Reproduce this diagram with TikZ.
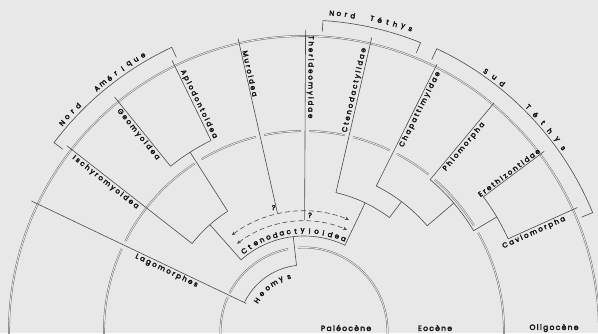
\documentclass[tikz,border=0pt]{standalone}
\usepackage{fontspec}
\setmainfont{Poppins}[AutoFakeBold=4]
\usetikzlibrary{arrows.meta}
\definecolor{bg}{HTML}{E8E8E8}
\definecolor{ink}{HTML}{4A4A4A}
\definecolor{tl}{HTML}{666666}
\definecolor{txt}{HTML}{1A1A1A}
\tikzset{
  clade/.style={draw=ink, line width=0.6pt},
  tline/.style={draw=tl, line width=0.45pt, double=bg, double distance=0.9pt},
  brk/.style={draw=ink, line width=0.6pt},
  lab/.style={text=txt, font=\bfseries\fontsize{7}{8}\selectfont\addfontfeature{LetterSpace=28}, inner sep=1.2pt},
  bot/.style={text=txt, font=\bfseries\fontsize{7.5}{9}\selectfont\addfontfeature{LetterSpace=18}, inner sep=0pt},
  letr/.style={text=txt, font=\bfseries\fontsize{7}{8}\selectfont, inner sep=0pt},
  dsh/.style={draw=ink, line width=0.6pt, dash pattern=on 5pt off 3pt, {Stealth[length=4pt,width=3.5pt]}-{Stealth[length=4pt,width=3.5pt]}},
}
\newcommand{\radl}[3]{\draw[clade] (#1:#2pt) -- (#1:#3pt);}
\newcommand{\carc}[3]{\draw[clade] (#1:#3pt) arc[start angle=#1, end angle=#2, radius=#3pt];}
\newcommand{\tarc}[3]{\draw[tline] (#1:#3pt) arc[start angle=#1, end angle=#2, radius=#3pt];}
\newcommand{\arctext}[4]{%
  \foreach \lt [count=\ii from 0] in {#1} {%
    \pgfmathsetmacro{\myang}{#2+\ii*(#3)}%
    \node[letr, rotate=\myang-90] at (\myang:#4pt) {\lt};%
  }}
\begin{document}
\begin{tikzpicture}[x=1pt,y=1pt]
\fill[bg] (0,0) rectangle (598,333);
\useasboundingbox (0,0) rectangle (598,333);
\begin{scope}
\clip (0,0) rectangle (598,333);
\begin{scope}[shift={(304,2)}]
% time arcs
\tarc{-3}{94}{83.5}
\tarc{101}{153}{83.5}
\tarc{156}{183}{83.5}
\tarc{-3}{29.4}{200}
\tarc{31.8}{49.1}{200}
\tarc{51.5}{62.3}{200}
\tarc{64.7}{75.8}{200}
\tarc{78.2}{88.5}{200}
\tarc{90.9}{101.5}{200}
\tarc{103.9}{120.8}{200}
\tarc{123.2}{153.3}{200}
\tarc{155.7}{183}{200}
\tarc{-3}{183}{295}
% cladogram
\radl{142}{142}{301}
\radl{129}{212}{301}
\radl{116}{212}{301}
\carc{129}{116}{212}
\radl{122.5}{142}{212}
\carc{142}{122.5}{142}
\radl{131.5}{95}{142}
\carc{131.5}{64.5}{95}
\radl{64.5}{95}{142}
\carc{77}{53}{142}
\radl{77}{142}{301}
\radl{53}{142}{162}
\carc{63.5}{40.5}{162}
\radl{63.5}{162}{298}
\radl{40.5}{162}{197}
\carc{50.2}{30.6}{197}
\radl{50.2}{197}{297}
\radl{30.6}{197}{224}
\carc{36.8}{24.3}{224}
\radl{36.8}{224}{300}
\radl{24.3}{224}{300}
\radl{102.7}{121}{300}
\radl{89.7}{111}{301}
\radl{96.5}{66}{95}
\carc{154.5}{96.5}{66}
\radl{154.5}{64}{302}
% dashed arcs
\draw[dsh] (127:120pt) arc[start angle=127, end angle=68, radius=120pt];
\draw[dsh] (127.5:110pt) arc[start angle=127.5, end angle=67, radius=110pt];
\node[letr] at (103.8:127pt) {?};
\node[letr] at (87:116pt) {?};
% brackets
\draw[brk] (143:302pt) -- (143:313pt) arc[start angle=143, end angle=115, radius=313pt] -- (115:302pt);
\draw[brk] (86.5:300pt) -- (86.5:311pt) arc[start angle=86.5, end angle=68, radius=311pt] -- (68:300pt);
\draw[brk] (64.8:300pt) -- (64.8:312pt) arc[start angle=64.8, end angle=22.3, radius=312pt] -- (22.3:300pt);
\arctext{N,o,r,d}{139.3}{-1.4}{319}
\arctext{A,m,é,r,i,q,u,e}{130.5}{-1.46}{319}
\arctext{N,o,r,d}{85}{-1.27}{319}
\arctext{T,é,t,h,y,s}{77.7}{-1.42}{320}
\arctext{S,u,d}{55}{-1.85}{317}
\arctext{T,é,t,h,y,s}{45}{-1.96}{317}
\arctext{C,t,e,n,o,d,a,c,t,y,l,o,i,d,e,a}{126.8}{-4}{100}
\arctext{H,e,o,m,y,s}{147}{-8.3}{56}
% radial labels
\node[lab, rotate=-38, anchor=north] at (142:248pt) {Ischyromyoidea};
\node[lab, rotate=-51, anchor=north] at (129:257pt) {Geomyoidea};
\node[lab, rotate=-64, anchor=south] at (116:250pt) {Aplodontoidea};
\node[lab, rotate=-77.3, anchor=south] at (102.7:263pt) {Muroidea};
\node[lab, rotate=-90.3, anchor=south] at (89.7:254pt) {Therideomyidae};
\node[lab, rotate=77, anchor=south] at (77:246pt) {Ctenodactylidae};
\node[lab, rotate=63.5, anchor=north] at (63.5:250pt) {Chapattimyidae};
\node[lab, rotate=50.2, anchor=north] at (50.2:244pt) {Phiomorpha};
\node[lab, rotate=36.8, anchor=south] at (36.8:259pt) {Erethizontidae};
\node[lab, rotate=24.3, anchor=north] at (24.3:250pt) {Caviomorpha};
\node[lab, rotate=-25.5, anchor=north] at (154.5:150pt) {Lagomorphes};
\end{scope}
\end{scope}
\node[bot] (pal) at (346,5) {Paléocène};
\node[bot] (eoc) at (435,5) {Eocène};
\node[bot] (oli) at (554,5) {Oligocène};
\end{tikzpicture}
\end{document}
